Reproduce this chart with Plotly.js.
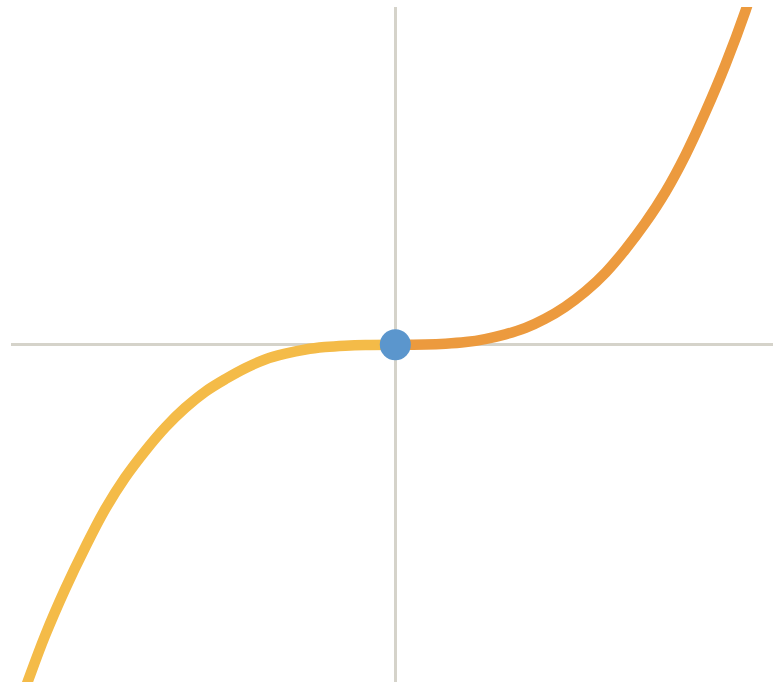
<!DOCTYPE html>
<html>
<head>
<meta charset="utf-8">
<script src="https://cdn.plot.ly/plotly-3.0.1.min.js"></script>
<style>html,body{margin:0;padding:0;background:#fff;}#chart{width:773px;height:682px;}</style>
</head>
<body>
<div id="chart"></div>
<script>
// Left (negative) branch
var leftX = [-4.32, -4.17, -3.98, -3.75, -3.52, -3.30, -3.07, -2.84, -2.61, -2.39, -2.16, -1.93, -1.70, -1.48, -1.25, -1.02, -0.80, -0.57, -0.34, 0];
var leftY = [-70.6, -63.6, -55.2, -46.3, -38.3, -31.3, -25.2, -20.1, -15.6, -12.0, -8.9, -6.5, -4.4, -2.8, -1.7, -0.9, -0.44, -0.17, -0.04, 0];
// Right (positive) branch
var rightX = [0, 0.34, 0.57, 0.80, 1.02, 1.25, 1.48, 1.70, 1.93, 2.16, 2.39, 2.61, 2.84, 3.07, 3.30, 3.52, 3.75, 3.98, 4.09];
var rightY = [0, 0.04, 0.19, 0.51, 1.08, 1.97, 3.2, 4.9, 7.2, 10.1, 13.7, 18.0, 23.1, 29.0, 36.1, 44.0, 53.1, 63.4, 69.1];
// Origin point
var pointX = [0];
var pointY = [0];

var traces = [
  {x: leftX, y: leftY, mode: 'lines', line: {color: '#F4BB48', width: 10.5, shape: 'spline', smoothing: 1}, hoverinfo: 'none'},
  {x: rightX, y: rightY, mode: 'lines', line: {color: '#EC9A3E', width: 10.5, shape: 'spline', smoothing: 1}, hoverinfo: 'none'},
  {x: pointX, y: pointY, mode: 'markers', marker: {color: '#5B96CD', size: 31}, cliponaxis: false, hoverinfo: 'none'}
];

var axisCommon = {
  showgrid: false, showticklabels: false, ticks: '', showline: false,
  zeroline: true, zerolinecolor: '#D5D3CA', zerolinewidth: 3, fixedrange: true
};

var layout = {
  width: 773, height: 682,
  margin: {l: 11, r: 0, t: 7, b: 0, pad: 0},
  paper_bgcolor: '#ffffff', plot_bgcolor: '#ffffff',
  showlegend: false,
  xaxis: Object.assign({range: [-4.367, 4.292]}, axisCommon),
  yaxis: Object.assign({range: [-64, 64.1]}, axisCommon)
};

Plotly.newPlot('chart', traces, layout, {displayModeBar: false, staticPlot: true});
</script>
</body>
</html>
